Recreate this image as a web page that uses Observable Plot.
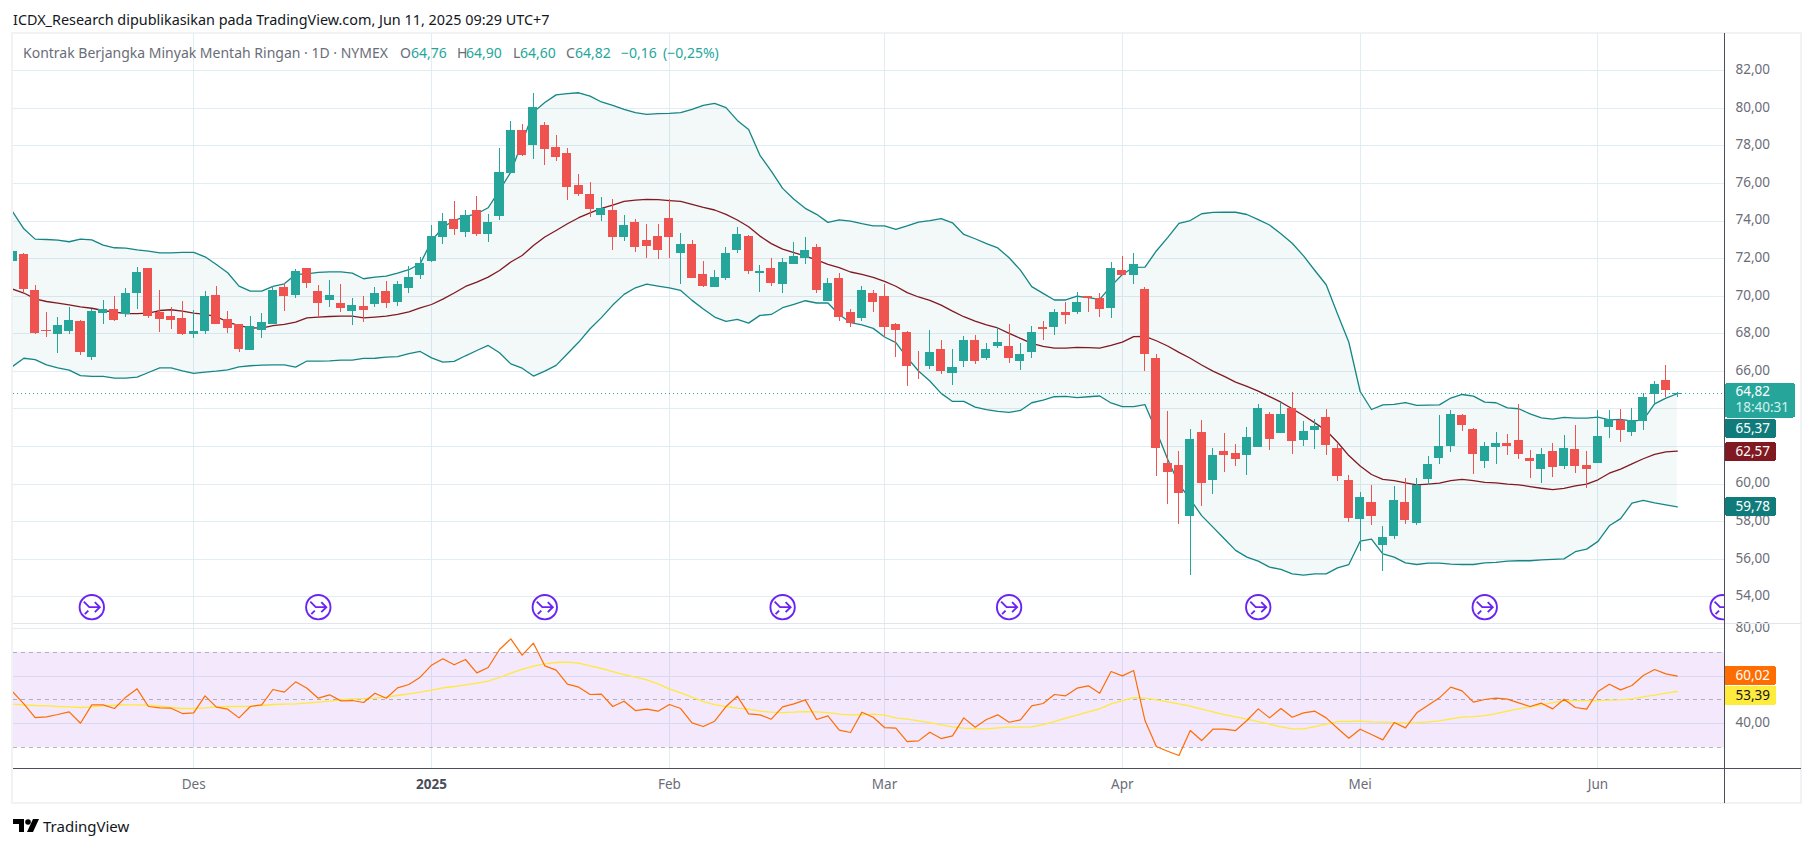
<!DOCTYPE html>
<html lang="id">
<head>
<meta charset="utf-8">
<title>Kontrak Berjangka Minyak Mentah Ringan</title>
<script src="https://cdn.jsdelivr.net/npm/d3@7"></script>
<script src="https://cdn.jsdelivr.net/npm/@observablehq/plot@0.6"></script>
<style>
html,body{margin:0;padding:0;background:#fff;}
body{width:1814px;height:847px;position:relative;overflow:hidden;font-family:"Noto Sans",sans-serif;}
#frame{position:absolute;left:11px;top:32px;width:1791px;height:772px;border:2px solid #f1f2f4;box-sizing:border-box;}
#price,#osc{position:absolute;left:0;}
#price{top:0;} #osc{top:623px;}
svg{display:block;overflow:visible;background:transparent !important;}
.t{position:absolute;white-space:nowrap;line-height:18px;font-size:14px;}
.line{position:absolute;}
</style>
</head>
<body>
<div class="t" style="left:13px;top:11px;color:#131722;font-size:14.4px" id="pubTitle"></div>
<div id="frame"></div>
<div id="price"></div>
<div id="osc"></div>
<div class="line" style="left:13px;top:623px;width:1788px;height:1px;background:#e3e5ea"></div>
<div class="line" style="left:13px;top:768px;width:1788px;height:1px;background:#4c4e5a"></div>
<div class="line" style="left:1724px;top:33px;width:1px;height:770px;background:#4c4e5a"></div>
<div id="legend"></div>
<svg style="position:absolute;left:13px;top:819px" width="26" height="14" viewBox="0 0 26 14"><path fill="#000" d="M0 0H11V13H6V5H0Z"/><circle cx="15" cy="3" r="2.8" fill="#000"/><path fill="#000" d="M20 0H26L20 13H14Z"/></svg>
<div class="t" style="left:43px;top:817px;color:#131722;font-size:15px">TradingView</div>
<script>
const pubTitle = "ICDX_Research dipublikasikan pada TradingView.com, Jun 11, 2025 09:29 UTC+7";
const symbolTitle = "Kontrak Berjangka Minyak Mentah Ringan · 1D · NYMEX";
const legendLetters = [["O",400],["H",457],["L",513],["C",566]];
const legendValues = [["64,76",411],["64,90",466],["64,60",520],["64,82",575],["−0,16",621],["(−0,25%)",663]];

const open = [71.85,72.22,70.31,68.18,67.98,68.14,68.66,66.76,69.08,69.30,69.05,70.15,71.48,69.14,68.92,68.82,67.97,68.13,70.04,68.76,68.50,67.11,68.18,68.50,70.47,70.04,71.48,70.25,69.78,69.62,69.19,69.46,69.56,70.25,69.67,70.41,71.11,71.85,73.13,74.09,73.39,74.57,73.29,74.25,76.54,78.82,78.03,79.09,77.92,77.60,75.90,75.42,74.29,74.54,73.10,73.95,72.99,73.20,74.16,72.30,72.78,71.18,70.49,70.97,72.46,73.20,71.23,71.50,70.65,71.71,72.03,72.57,69.74,70.92,69.11,68.79,70.17,69.96,68.47,68.09,66.39,66.28,67.14,65.91,66.55,67.67,66.71,67.30,67.30,66.55,66.98,68.36,68.31,69.16,69.11,69.96,69.90,69.37,71.39,71.13,70.38,66.66,61.12,61.01,58.25,62.75,60.19,61.74,61.63,61.52,61.95,63.71,62.69,64.03,62.32,62.85,63.55,61.90,60.19,58.12,59.02,56.73,57.21,59.02,57.90,60.25,61.36,62.00,63.65,62.91,61.20,61.95,62.16,62.32,61.36,60.78,61.74,60.96,61.84,60.99,61.10,63.01,63.39,62.75,63.33,64.77,65.52,64.76];
const close = [72.38,70.38,68.00,68.14,68.44,68.71,67.02,69.19,69.30,68.71,70.15,71.27,68.94,68.76,68.71,67.97,68.13,69.99,68.50,68.28,67.17,68.39,68.60,70.31,69.99,71.32,70.68,69.62,70.04,69.35,69.51,69.24,70.15,69.62,70.63,71.00,71.74,73.18,73.98,73.55,74.30,73.29,73.93,76.59,78.82,77.49,80.05,77.81,77.39,75.79,75.42,74.62,74.68,73.10,73.79,72.57,72.67,72.46,73.10,72.73,70.97,70.54,71.02,72.30,73.31,71.34,71.29,70.70,71.82,72.09,72.46,70.33,70.70,68.89,68.57,70.33,69.69,68.31,68.20,66.28,66.34,67.03,65.97,66.23,67.67,66.50,67.19,67.56,66.71,66.92,68.09,68.25,69.11,68.95,69.64,69.90,69.32,71.50,71.13,71.71,66.92,61.92,60.64,59.52,62.35,60.03,61.52,61.52,61.31,62.48,64.03,62.38,63.71,62.27,62.80,63.07,62.06,60.41,58.17,59.29,58.28,57.16,59.13,58.06,59.93,61.04,62.00,63.71,63.12,61.58,62.00,62.16,62.00,61.58,61.20,61.58,60.89,61.90,60.94,60.78,62.54,63.44,62.85,63.39,64.61,65.30,64.98,64.82];
const high = [72.45,72.26,70.57,69.14,68.87,69.40,68.69,69.30,69.78,69.99,70.40,71.55,71.50,70.31,69.38,69.70,69.24,70.25,70.52,69.19,68.52,68.92,69.08,70.54,70.70,71.42,71.50,70.57,70.84,70.63,69.88,69.99,70.47,70.79,70.79,71.58,72.06,73.77,74.41,75.04,74.57,75.31,74.35,77.87,79.30,79.14,80.79,79.25,78.56,77.87,76.48,76.06,75.23,75.17,74.32,74.06,73.84,73.84,75.17,73.36,72.97,71.87,71.39,72.57,73.68,73.22,71.61,72.03,72.03,72.88,73.15,72.78,70.92,71.23,69.27,70.54,70.28,70.60,68.57,68.11,67.08,68.20,67.62,67.19,67.88,67.93,67.51,68.36,68.52,67.46,68.41,68.63,69.32,69.69,70.22,69.98,70.12,71.82,72.09,72.30,70.44,66.92,63.89,61.76,62.93,63.39,61.90,62.69,62.11,63.01,64.24,63.81,64.34,64.88,63.33,63.42,63.97,62.11,60.46,59.55,59.93,57.74,59.87,60.30,60.30,61.47,63.65,63.92,63.71,62.96,62.22,62.75,62.64,64.24,61.79,61.90,62.16,62.59,63.12,61.74,63.92,63.92,63.97,64.03,64.82,65.46,66.31,64.90];
const low = [71.75,70.13,67.97,67.82,66.97,67.97,66.87,66.58,68.50,68.67,68.89,69.30,68.80,68.09,68.23,67.93,67.77,67.97,68.48,68.02,67.01,67.09,67.75,68.48,69.19,69.88,70.41,68.87,69.40,69.14,68.44,68.60,69.40,69.35,69.46,70.15,70.89,71.80,72.76,73.23,73.13,73.18,72.86,74.03,76.52,77.46,77.28,76.96,77.17,75.10,75.31,74.21,74.00,72.41,72.94,72.35,72.03,71.93,72.03,70.65,70.95,70.44,70.47,70.86,72.30,71.18,70.22,70.54,70.12,71.69,71.71,70.17,69.72,68.68,68.36,68.63,69.16,67.83,66.76,65.22,65.59,66.12,65.81,65.27,66.18,66.39,66.60,67.24,66.44,66.07,66.66,67.67,67.93,68.52,69.05,69.11,68.89,68.79,71.11,70.60,65.97,60.43,58.94,57.87,55.11,58.81,59.45,60.62,60.94,60.46,61.93,61.79,62.68,61.58,62.00,61.84,61.52,60.14,57.96,56.41,57.80,55.35,57.05,57.85,57.80,59.93,61.04,61.68,62.80,60.51,60.83,61.04,61.52,61.31,60.30,60.03,60.37,60.80,60.57,59.77,61.08,62.43,62.22,62.54,62.85,64.24,64.61,64.60];
const upperBand = [74.51,73.59,73.04,73.02,72.99,72.90,73.04,73.00,72.72,72.58,72.56,72.47,72.40,72.31,72.31,72.33,72.33,72.10,71.69,71.25,70.54,70.27,70.27,70.52,70.66,71.16,71.19,71.27,71.30,71.30,71.23,70.93,71.02,71.07,71.23,71.41,71.73,72.93,73.68,74.03,74.25,74.39,74.71,75.63,76.61,78.20,79.80,80.31,80.72,80.79,80.83,80.65,80.34,80.16,79.95,79.77,79.68,79.72,79.73,79.77,79.95,80.16,80.27,80.04,79.36,78.88,77.50,76.66,75.74,75.16,74.68,74.36,73.93,74.07,74.00,73.86,73.74,73.74,73.56,73.74,73.95,74.02,74.13,73.91,73.29,73.06,72.80,72.57,72.05,71.39,70.51,70.15,69.80,69.80,70.00,69.93,69.83,70.54,71.16,71.54,71.55,72.41,73.12,73.88,74.03,74.39,74.46,74.47,74.47,74.35,74.08,73.79,73.32,72.82,72.15,71.37,70.61,69.06,67.55,64.93,63.97,64.22,64.24,64.34,64.19,64.20,64.22,64.58,64.77,64.68,64.36,64.33,64.06,64.01,63.74,63.53,63.46,63.55,63.51,63.51,63.56,63.42,63.44,63.35,63.42,64.27,64.58,64.81];
const basisBand = [70.38,70.17,69.86,69.72,69.63,69.54,69.43,69.36,69.24,69.15,69.08,69.07,69.10,69.24,69.28,69.21,69.10,69.03,68.92,68.62,68.44,68.32,68.30,68.43,68.50,68.62,68.85,68.89,68.92,68.94,68.94,68.85,68.89,68.94,69.03,69.17,69.38,69.56,69.85,70.17,70.52,70.75,71.02,71.37,71.82,72.17,72.70,73.15,73.50,73.86,74.18,74.44,74.68,74.85,75.05,75.12,75.16,75.14,75.09,75.05,74.89,74.73,74.59,74.36,74.06,73.70,73.20,72.80,72.51,72.32,72.14,71.94,71.70,71.52,71.29,71.16,71.00,70.79,70.53,70.19,69.96,69.78,69.53,69.21,68.91,68.68,68.47,68.31,68.02,67.76,67.49,67.33,67.24,67.24,67.28,67.26,67.24,67.38,67.56,67.85,67.86,67.63,67.35,67.01,66.70,66.34,66.01,65.73,65.43,65.20,64.95,64.66,64.36,64.01,63.65,63.26,62.85,62.23,61.52,60.96,60.51,60.25,60.19,60.07,59.96,60.00,60.05,60.18,60.25,60.19,60.09,60.07,60.00,59.96,59.87,59.78,59.71,59.77,59.91,60.00,60.23,60.58,60.80,61.08,61.35,61.58,61.72,61.75];
const lowerBand = [66.26,66.70,66.63,66.35,66.19,66.07,65.77,65.73,65.73,65.64,65.64,65.69,65.94,66.19,66.19,66.03,65.89,65.96,66.01,66.08,66.24,66.30,66.33,66.35,66.35,66.23,66.55,66.55,66.56,66.60,66.60,66.69,66.70,66.76,66.79,66.95,67.06,66.72,66.49,66.53,66.83,67.11,67.38,66.99,66.40,66.17,65.75,66.01,66.32,66.94,67.56,68.27,68.86,69.53,70.10,70.45,70.65,70.54,70.44,70.31,69.78,69.32,68.89,68.66,68.77,68.57,68.98,69.03,69.39,69.57,69.76,69.64,69.64,69.03,68.59,68.47,68.29,67.83,67.53,66.73,66.02,65.49,64.83,64.40,64.40,64.10,63.96,63.87,63.82,63.92,64.33,64.47,64.65,64.67,64.60,64.65,64.69,64.32,64.12,64.12,64.23,62.83,61.32,59.99,59.19,58.32,57.71,57.09,56.47,56.11,55.90,55.58,55.46,55.22,55.15,55.22,55.22,55.54,55.72,56.96,57.07,56.29,56.11,55.81,55.72,55.79,55.79,55.74,55.72,55.72,55.81,55.83,55.90,55.92,55.92,55.97,55.99,56.02,56.40,56.54,56.95,57.78,58.16,58.99,59.13,59.00,58.90,58.79];
const rsi = [53.55,48.36,42.61,42.89,43.87,44.99,40.22,47.94,47.94,46.40,51.16,54.67,47.24,46.68,46.54,44.29,44.57,51.73,46.96,46.12,42.47,47.24,47.94,54.39,53.27,57.62,54.95,50.74,52.15,49.62,49.76,48.92,52.85,50.74,55.09,56.49,59.58,64.63,67.29,64.77,67.01,61.40,63.65,71.22,75.71,68.84,73.88,64.35,62.52,56.63,55.37,52.29,52.43,47.24,49.48,45.55,46.12,45.27,48.08,46.40,40.36,38.82,41.07,47.24,51.58,44.15,43.73,41.91,47.10,48.36,50.04,41.77,43.31,37.28,36.30,44.85,42.75,38.40,38.12,32.51,32.79,36.44,33.77,34.89,42.47,38.54,41.77,43.73,40.64,41.63,47.52,48.50,52.29,51.73,54.95,55.93,52.85,61.96,60.14,62.38,41.35,30.41,28.44,26.62,37.14,32.93,37.70,37.70,37.14,41.35,46.26,42.47,46.40,42.75,44.57,45.27,42.47,38.12,33.91,37.70,35.46,33.21,40.50,38.26,44.57,47.80,50.88,55.37,53.83,49.06,50.18,50.74,50.32,48.78,47.24,48.64,46.26,50.32,46.82,46.12,53.55,56.63,54.25,56.07,60.28,62.81,60.98,60.02];
const rsiMa = [48.22,47.94,47.66,47.52,47.24,47.10,46.82,47.10,47.52,47.80,47.94,47.94,47.80,47.38,46.82,46.40,46.40,46.68,47.10,47.24,47.24,47.38,47.66,48.08,48.22,48.36,48.64,49.06,49.48,50.04,50.46,50.60,50.74,51.16,51.87,52.57,53.27,54.11,55.09,55.65,56.35,57.05,57.90,59.44,61.26,62.81,64.21,65.19,65.75,65.89,65.47,64.35,63.23,61.96,60.70,59.58,58.46,56.77,54.67,52.99,51.16,49.34,48.08,47.24,46.54,46.12,45.27,44.85,44.71,44.85,45.13,44.99,44.71,44.01,43.73,43.87,44.01,43.59,42.47,41.91,41.21,40.50,39.52,38.68,38.12,37.98,37.84,38.26,38.54,38.54,38.68,39.66,40.93,42.33,43.59,44.99,46.26,48.36,49.76,51.02,50.74,50.04,49.20,48.36,47.38,46.12,44.99,43.87,42.89,41.91,40.93,39.80,38.68,37.84,37.84,38.82,39.80,40.93,40.93,41.07,40.79,40.65,40.50,40.36,40.50,40.79,41.21,42.05,42.75,43.03,43.45,44.29,45.27,46.26,47.10,47.94,48.92,49.62,49.76,49.76,49.76,49.90,50.04,50.46,51.30,52.01,52.85,53.55];

const monthBars = [16,37,58,77,98,119,140];
const monthNames = ["Des","2025","Feb","Mar","Apr","Mei","Jun"];
const priceGrid = [54,56,58,60,62,64,66,68,70,72,74,76,78,80,82];
const priceTicks = [54,56,58,60,66,68,70,72,74,76,78,80,82];
const rsiTicks = [80,40];
const iconBars = [7,27,47,68,88,110,130,151];

const lastClose = 64.82;
const xDomain = [0.086,151.26];
const priceDomain = [52.58,83.985];
const rsiDomain = [21.05,82.15];
const tagLeft = 151.26, tagText = 152.14, tagRight = 155.76, tagRightWide = 157.44;
const iconLevel = 53.45;

const priceTags = [
  {top:65.35,bottom:63.51,at:64.93,label:"64,82",fill:"#26a69a",right:tagRightWide,ink:"#fff"},
  {top:63.44,bottom:62.44,at:62.94,label:"65,37",fill:"#0f7c7b",right:tagRight,ink:"#fff"},
  {top:62.2,bottom:61.2,at:61.72,label:"62,57",fill:"#801922",right:tagRight,ink:"#fff"},
  {top:59.28,bottom:58.29,at:58.79,label:"59,78",fill:"#0f7c7b",right:tagRight,ink:"#fff"}
];
const countdown = [{at:64.08,label:"18:40:31"}];
const rsiTags = [
  {top:64.07,bottom:56.07,at:60.1,label:"60,02",fill:"#ff6d00",ink:"#fff"},
  {top:55.79,bottom:47.66,at:51.8,label:"53,39",fill:"#ffeb3b",ink:"#131722"}
];

const UP="#26a69a", DOWN="#ef5350", BAND="#148686", BASIS="#801922", GRID="#e2ecf3", AXIS_INK="#6a6d78";
const FONT='"Noto Sans",sans-serif';
const comma = d=>d.toFixed(2).replace(".",",");

const bars = d3.range(open.length);
const col = i=>close[i]>=open[i]?UP:DOWN;

const arrowIcon = {draw(c){
  c.moveTo(12.2,0);c.arc(0,0,12.2,0,Math.PI*2);
  c.moveTo(-8,-5.5);c.lineTo(-2.5,0);c.lineTo(8,0);
  c.moveTo(3,-5);c.lineTo(8,0);c.lineTo(3,5);
  c.moveTo(-7,7);c.lineTo(-3.5,3.5);
}};

const pricePlot = Plot.plot({
  width:1814,height:625,marginTop:33,marginBottom:2,marginLeft:13,marginRight:89,
  style:{fontFamily:FONT,fontSize:"13.5px",background:"transparent"},
  x:{domain:xDomain,axis:null},
  y:{domain:priceDomain,axis:null},
  marks:[
    Plot.ruleY(priceGrid,{stroke:GRID,strokeWidth:1,shapeRendering:"crispEdges"}),
    Plot.ruleX(monthBars,{stroke:GRID,strokeWidth:1,shapeRendering:"crispEdges"}),
    Plot.axisY({anchor:"right",ticks:priceTicks,tickFormat:comma,tickSize:0,tickPadding:10,label:null,color:AXIS_INK,fontSize:13.5,dy:-1}),
    Plot.areaY(bars,{x:i=>i,y1:i=>lowerBand[i],y2:i=>upperBand[i],fill:"#0f7c7b",fillOpacity:0.05,clip:true}),
    Plot.ruleY([lastClose],{stroke:UP,strokeWidth:1,strokeDasharray:"1,3"}),
    Plot.lineY(bars,{x:i=>i,y:i=>upperBand[i],stroke:BAND,strokeWidth:1.3,clip:true}),
    Plot.lineY(bars,{x:i=>i,y:i=>lowerBand[i],stroke:BAND,strokeWidth:1.3,clip:true}),
    Plot.lineY(bars,{x:i=>i,y:i=>basisBand[i],stroke:BASIS,strokeWidth:1.3,clip:true}),
    Plot.ruleX(bars,{x:i=>i,y1:i=>low[i],y2:i=>high[i],stroke:col,strokeWidth:1,shapeRendering:"crispEdges",clip:true}),
    Plot.rect(bars,{x1:i=>i-0.4,x2:i=>i+0.4,y1:i=>Math.min(open[i],close[i]),y2:i=>Math.max(open[i],close[i]),fill:col,shapeRendering:"crispEdges",clip:true}),
    Plot.dot(iconBars,{x:d=>d,y:()=>iconLevel,symbol:arrowIcon,r:12,stroke:"#6a24f2",strokeWidth:1.9,fill:"#fff",clip:true}),
    Plot.rect(priceTags,{x1:()=>tagLeft,x2:"right",y1:"bottom",y2:"top",fill:"fill",rx:2,shapeRendering:"crispEdges"}),
    Plot.text(priceTags,{x:()=>tagText,y:"at",text:"label",fill:"ink",textAnchor:"start",fontSize:13.5}),
    Plot.text(countdown,{x:()=>tagText,y:"at",text:"label",fill:"#d4efec",textAnchor:"start",fontSize:13.5})
  ]
});
document.getElementById("price").append(pricePlot);

const rsiBars = d3.range(rsi.length);
const oscPlot = Plot.plot({
  width:1814,height:181,marginTop:0,marginBottom:35.7,marginLeft:13,marginRight:89,
  style:{fontFamily:FONT,fontSize:"13.5px",background:"transparent"},
  x:{domain:xDomain,axis:null},
  y:{domain:rsiDomain,axis:null},
  marks:[
    Plot.ruleY([80,60,40],{stroke:GRID,strokeWidth:1,shapeRendering:"crispEdges"}),
    Plot.ruleX(monthBars,{stroke:GRID,strokeWidth:1,shapeRendering:"crispEdges"}),
    Plot.rect([{a:30,b:70}],{x1:()=>xDomain[0],x2:()=>xDomain[1],y1:"a",y2:"b",fill:"#9b26e6",fillOpacity:0.105}),
    Plot.ruleY([70,50,30],{stroke:"#787b86",strokeOpacity:0.55,strokeWidth:1,strokeDasharray:"4,4",shapeRendering:"crispEdges"}),
    Plot.lineY(rsiBars,{x:i=>i,y:i=>rsiMa[i],stroke:"#ffe93b",strokeWidth:1.3,clip:true}),
    Plot.lineY(rsiBars,{x:i=>i,y:i=>rsi[i],stroke:"#ff6d00",strokeWidth:1.2,clip:true}),
    Plot.axisY({anchor:"right",ticks:rsiTicks,tickFormat:comma,tickSize:0,tickPadding:10,label:null,color:AXIS_INK,fontSize:13.5,dy:-1}),
    Plot.rect(rsiTags,{x1:()=>tagLeft,x2:()=>tagRight,y1:"bottom",y2:"top",fill:"fill",rx:2,shapeRendering:"crispEdges"}),
    Plot.text(rsiTags,{x:()=>tagText,y:"at",text:"label",fill:"ink",textAnchor:"start",fontSize:13.5}),
    Plot.axisX({anchor:"bottom",ticks:monthBars.filter((_,k)=>k!==1),tickFormat:d=>monthNames[monthBars.indexOf(d)],tickSize:0,tickPadding:11,label:null,color:AXIS_INK,fontSize:13.5}),
    Plot.axisX({anchor:"bottom",ticks:[monthBars[1]],tickFormat:()=>monthNames[1],tickSize:0,tickPadding:11,label:null,color:"#4a4d59",fontSize:13.5,fontWeight:"bold"})
  ]
});
document.getElementById("osc").append(oscPlot);

document.getElementById("pubTitle").textContent = pubTitle;
const legend = document.getElementById("legend");
const add = (txt,x,c)=>{const s=document.createElement("div");s.className="t";s.style.cssText=`left:${x}px;top:44px;color:${c}`;s.textContent=txt;legend.append(s);};
add(symbolTitle,23,"#6a6d78");
legendLetters.forEach(([t,x])=>add(t,x,"#6a6d78"));
legendValues.forEach(([t,x])=>add(t,x,UP));
</script>
</body>
</html>
